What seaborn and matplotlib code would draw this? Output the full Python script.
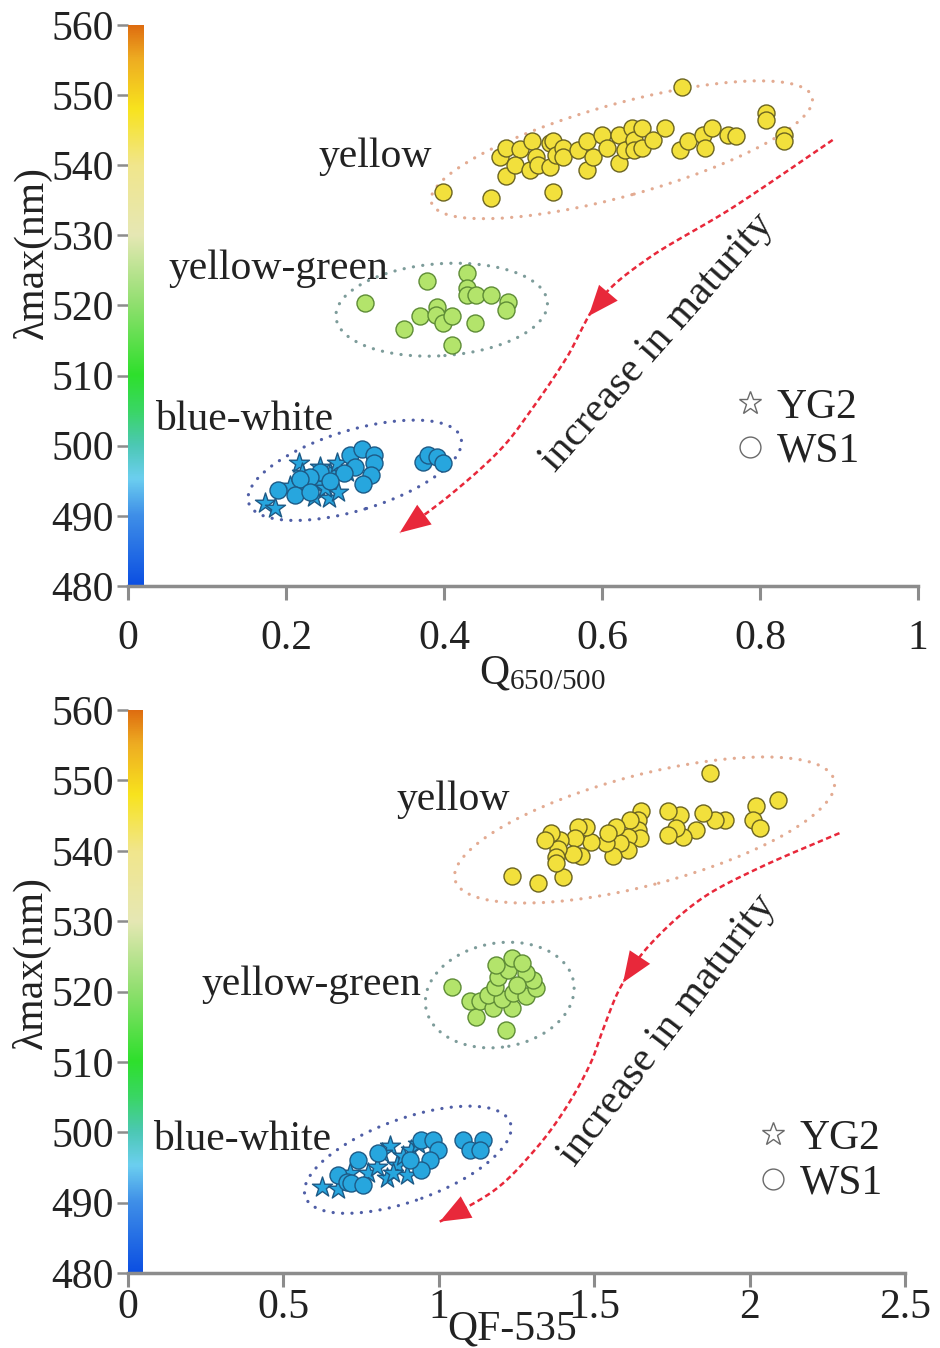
import numpy as np
import pandas as pd
import matplotlib
matplotlib.use("Agg")
import matplotlib.pyplot as plt
import matplotlib.transforms as mtransforms
from matplotlib.colors import LinearSegmentedColormap
from matplotlib.patches import Ellipse, FancyArrowPatch
from matplotlib.lines import Line2D
import seaborn as sns

# ---------------------------------------------------------------- data
# Panel A: Q650/500 vs lambda max
a_yellow_q = [0.399, 0.460, 0.538, 0.701, 0.808, 0.808, 0.830, 0.830, 0.479, 0.471,
              0.479, 0.496, 0.490, 0.509, 0.511, 0.517, 0.519, 0.534, 0.534, 0.538,
              0.542, 0.551, 0.551, 0.570, 0.581, 0.581, 0.589, 0.600, 0.606, 0.621,
              0.621, 0.629, 0.638, 0.640, 0.640, 0.650, 0.650, 0.665, 0.680, 0.699,
              0.709, 0.728, 0.730, 0.739, 0.760, 0.770]
a_yellow_l = [536.2, 535.3, 536.2, 551.2, 547.4, 546.5, 544.3, 543.4, 538.4, 541.2,
              542.4, 542.3, 540.0, 539.3, 543.4, 541.2, 540.0, 539.8, 543.1, 543.4,
              541.5, 542.4, 541.1, 542.2, 543.4, 539.3, 541.2, 544.3, 542.4, 544.3,
              540.3, 542.2, 545.3, 543.6, 542.2, 545.3, 542.4, 543.6, 545.3, 542.2,
              543.4, 544.3, 542.4, 545.3, 544.3, 544.2]
a_ygreen_q = [0.300, 0.378, 0.429, 0.429, 0.429, 0.441, 0.460, 0.481, 0.479, 0.349,
              0.370, 0.391, 0.390, 0.399, 0.410, 0.439, 0.410]
a_ygreen_l = [520.4, 523.5, 524.6, 522.5, 521.5, 521.5, 521.5, 520.5, 519.4, 516.6,
              518.5, 519.8, 518.6, 517.5, 518.5, 517.5, 514.4]
a_blue_ws1_q = [0.281, 0.296, 0.311, 0.311, 0.308, 0.298, 0.287, 0.273, 0.243, 0.230,
                0.218, 0.211, 0.230, 0.374, 0.380, 0.391, 0.399, 0.190, 0.256]
a_blue_ws1_l = [498.7, 499.5, 498.7, 497.5, 495.8, 494.6, 497.0, 496.1, 496.3, 495.6,
                495.3, 493.0, 493.4, 497.7, 498.7, 498.4, 497.6, 493.7, 494.9]
a_blue_yg2_q = [0.173, 0.186, 0.216, 0.205, 0.224, 0.239, 0.235, 0.254, 0.266, 0.249,
                0.256, 0.268, 0.264, 0.277, 0.220, 0.243]
a_blue_yg2_l = [491.8, 491.1, 497.5, 494.2, 494.5, 494.6, 492.7, 492.5, 493.4, 493.9,
                496.1, 496.5, 497.5, 496.3, 496.1, 497.0]

# Panel B: QF-535 vs lambda max
b_yellow_q = [1.234, 1.319, 1.400, 1.871, 2.091, 2.021, 2.011, 2.032, 1.920, 1.887,
              1.850, 1.828, 1.786, 1.775, 1.764, 1.737, 1.737, 1.652, 1.641, 1.641,
              1.646, 1.614, 1.609, 1.609, 1.582, 1.571, 1.559, 1.539, 1.544, 1.491,
              1.475, 1.448, 1.437, 1.459, 1.432, 1.389, 1.384, 1.378, 1.378, 1.362,
              1.341]
b_yellow_l = [536.4, 535.4, 536.3, 551.1, 547.2, 546.3, 544.4, 543.2, 544.3, 544.4,
              545.3, 543.0, 542.0, 545.1, 543.2, 545.6, 542.2, 545.6, 544.4, 543.0,
              541.8, 544.4, 542.0, 540.1, 541.1, 543.4, 539.2, 541.1, 542.5, 541.3,
              543.4, 543.4, 541.8, 539.3, 539.6, 541.5, 540.3, 539.1, 538.2, 542.5,
              541.5]
b_ygreen_q = [1.041, 1.215, 1.121, 1.100, 1.132, 1.173, 1.234, 1.159, 1.202, 1.239,
              1.282, 1.314, 1.303, 1.282, 1.250, 1.180, 1.191, 1.223, 1.185, 1.234,
              1.266]
b_ygreen_l = [520.6, 514.6, 516.4, 518.6, 518.6, 517.6, 517.6, 519.5, 519.0, 519.8,
              519.3, 520.5, 521.6, 522.6, 520.9, 520.7, 522.1, 523.1, 523.8, 524.7,
              524.0]
b_blue_ws1_q = [0.676, 0.703, 0.741, 0.719, 0.757, 0.805, 0.944, 0.982, 0.998, 0.971,
                0.944, 1.078, 1.142, 1.100, 1.132, 0.907]
b_blue_ws1_l = [494.0, 493.0, 496.1, 492.8, 492.5, 497.0, 498.9, 498.9, 497.5, 496.1,
                494.6, 498.9, 498.9, 497.5, 497.5, 496.1]
b_blue_yg2_q = [0.623, 0.676, 0.714, 0.773, 0.832, 0.842, 0.816, 0.864, 0.885, 0.912,
                0.896, 0.934, 0.853, 0.800]
b_blue_yg2_l = [492.2, 491.9, 494.2, 494.2, 493.5, 498.0, 497.0, 495.4, 496.6, 497.5,
                494.0, 498.4, 494.2, 495.1]

groups = ["yellow", "yellow-green", "blue-white"]
wells = ["YG2", "WS1"]
y_ticks = [480, 490, 500, 510, 520, 530, 540, 550, 560]
a_x_ticks = [0, 0.2, 0.4, 0.6, 0.8, 1.0]
a_x_labels = ["0", "0.2", "0.4", "0.6", "0.8", "1"]
b_x_ticks = [0, 0.5, 1.0, 1.5, 2.0, 2.5]
b_x_labels = ["0", "0.5", "1", "1.5", "2", "2.5"]


def build_frame(yellow, ygreen, blue_ws1, blue_yg2):
    parts = [
        pd.DataFrame({"q": yellow[0], "lam": yellow[1], "group": "yellow", "well": "WS1"}),
        pd.DataFrame({"q": ygreen[0], "lam": ygreen[1], "group": "yellow-green", "well": "WS1"}),
        pd.DataFrame({"q": blue_ws1[0], "lam": blue_ws1[1], "group": "blue-white", "well": "WS1"}),
        pd.DataFrame({"q": blue_yg2[0], "lam": blue_yg2[1], "group": "blue-white", "well": "YG2"}),
    ]
    return pd.concat(parts, ignore_index=True)


df_a = build_frame((a_yellow_q, a_yellow_l), (a_ygreen_q, a_ygreen_l),
                   (a_blue_ws1_q, a_blue_ws1_l), (a_blue_yg2_q, a_blue_yg2_l))
df_b = build_frame((b_yellow_q, b_yellow_l), (b_ygreen_q, b_ygreen_l),
                   (b_blue_ws1_q, b_blue_ws1_l), (b_blue_yg2_q, b_blue_yg2_l))

# ---------------------------------------------------------------- style
sns.set_theme(style="white")
plt.rcParams["font.family"] = ["Liberation Serif", "DejaVu Serif"]
plt.rcParams["mathtext.fontset"] = "custom"
plt.rcParams["mathtext.rm"] = "Liberation Serif"
plt.rcParams["mathtext.it"] = "Liberation Serif:italic"

face = {"yellow": "#f2e03c", "yellow-green": "#b3e46b", "blue-white": "#27a6de"}
edge = {"yellow": "#6b6420", "yellow-green": "#5e8c36", "blue-white": "#1d5a86"}
ring = {"yellow": "#e3ab92", "yellow-green": "#7d9c9a", "blue-white": "#4f5ea6"}
marker_of = {"WS1": "o", "YG2": "*"}
size_of = {"WS1": 150, "YG2": 230}

spectrum = LinearSegmentedColormap.from_list("lam", [
    (0.0, "#0c4fe2"), (0.125, "#3f8fe8"), (0.19, "#6ccff0"), (0.25, "#4cc8b4"),
    (0.31, "#3ad666"), (0.375, "#2ee02c"), (0.5, "#8fdf6e"), (0.625, "#e6e8b4"),
    (0.75, "#f1e68c"), (0.85, "#f8e31e"), (0.94, "#eeac22"), (1.0, "#de6c10")])

DPI = 100
fig = plt.figure(figsize=(9.40, 13.48), dpi=DPI)
ax_a = fig.add_axes([0.1362, 0.5653, 0.8404, 0.4162])
ax_b = fig.add_axes([0.1362, 0.0556, 0.8266, 0.4177])

TXT = "#222222"
AXC = "#8c8c8c"
ARROW = "#e8283a"
NSEG = 30


def catmull(points, n=NSEG):
    p = np.asarray(points, dtype=float)
    p = np.vstack([p[0], p, p[-1]])
    out = []
    for i in range(1, len(p) - 2):
        p0, p1, p2, p3 = p[i - 1], p[i], p[i + 1], p[i + 2]
        t = np.linspace(0, 1, n, endpoint=False)[:, None]
        seg = 0.5 * ((2 * p1) + (-p0 + p2) * t + (2 * p0 - 5 * p1 + 4 * p2 - p3) * t ** 2
                     + (-p0 + 3 * p1 - 3 * p2 + p3) * t ** 3)
        out.append(seg)
    out.append(p[-2][None, :])
    return np.vstack(out)


def panel(ax, df, xlim, xticks, xlabels, bar_w, ellipses, labels, guide, mid_pos,
          note_xy, note_rot, legend_anchor, xlabel, xlabel_xy, tick_pad, ylabel_xy):
    # colour scale strip along the wavelength axis
    grad = np.linspace(0, 1, 256)[:, None]
    ax.imshow(grad, cmap=spectrum, aspect="auto", origin="lower",
              extent=[0, bar_w, 0, 1], transform=ax.transAxes, zorder=1)

    for g in groups:
        for w in wells:
            sub = df[(df["group"] == g) & (df["well"] == w)]
            if sub.empty:
                continue
            sns.scatterplot(data=sub, x="q", y="lam", ax=ax, marker=marker_of[w],
                            s=size_of[w], color=face[g], edgecolor=edge[g],
                            linewidth=1.0, legend=False, zorder=4)

    ax.set_xlim(*xlim)
    ax.set_ylim(480, 560)

    # dotted outlines around each colour group (size in inches, angle in screen space)
    for g, (cx, cy, w_in, h_in, ang) in ellipses.items():
        tr = fig.dpi_scale_trans + mtransforms.ScaledTranslation(cx, cy, ax.transData)
        ax.add_patch(Ellipse((0, 0), w_in, h_in, angle=ang, transform=tr, fill=False,
                             edgecolor=ring[g], linewidth=2.3, linestyle=(0, (0.05, 2.9)),
                             capstyle="round", zorder=3))

    for g, (tx, ty) in labels.items():
        ax.text(tx, ty, g, fontsize=30, color=TXT, ha="left", va="center", zorder=5)

    # maturity trend arrow
    path = catmull(guide)
    ax.plot(path[:, 0], path[:, 1], color=ARROW, lw=1.8, ls=(0, (2.2, 1.4)), zorder=3)
    mid_k = int(round(mid_pos * NSEG))
    for k in (mid_k, len(path) - 1):
        tip = path[k]
        back = path[max(k - 22, 0)]
        ax.add_patch(FancyArrowPatch(back, tip,
                                     arrowstyle="-|>,head_length=0.55,head_width=0.22",
                                     mutation_scale=40, color=ARROW, lw=0,
                                     shrinkA=0, shrinkB=0, zorder=4))
    ax.text(note_xy[0], note_xy[1], "increase in maturity", fontsize=30, color=TXT,
            rotation=note_rot, rotation_mode="anchor", ha="center", va="center", zorder=5)

    handles = [Line2D([], [], ls="none", marker="*", ms=17, mfc="none", mec="#6a6a6a", mew=1.0),
               Line2D([], [], ls="none", marker="o", ms=15, mfc="none", mec="#6a6a6a", mew=1.0)]
    ax.legend(handles, wells, loc="upper left", bbox_to_anchor=legend_anchor, frameon=False,
              fontsize=30, handletextpad=0.15, labelspacing=0.14, borderpad=0,
              handlelength=1.0, labelcolor=TXT)

    ax.set_yticks(y_ticks)
    ax.set_yticklabels([str(v) for v in y_ticks])
    ax.set_xticks(xticks)
    ax.set_xticklabels(xlabels)
    ax.tick_params(axis="x", direction="out", length=10, width=2.2, color=AXC,
                   labelsize=30, labelcolor=TXT, pad=tick_pad, bottom=True)
    ax.tick_params(axis="y", direction="out", length=8, width=1.8, color=AXC,
                   labelsize=30, labelcolor=TXT, pad=2, left=True)
    for side in ("top", "right", "left"):
        ax.spines[side].set_visible(False)
    ax.spines["bottom"].set_color(AXC)
    ax.spines["bottom"].set_linewidth(2.5)
    ax.set_xlabel(xlabel, fontsize=30, color=TXT)
    ax.xaxis.set_label_coords(*xlabel_xy)
    ax.set_ylabel("λmax(nm)", fontsize=30, color=TXT)
    ax.yaxis.set_label_coords(*ylabel_xy)
    ax.grid(False)


panel(ax_a, df_a, (0, 1.0), a_x_ticks, a_x_labels, 0.019,
      ellipses={"yellow": (0.625, 542.2, 3.95, 0.92, 15.5),
                "yellow-green": (0.397, 519.4, 2.12, 0.92, 4.0),
                "blue-white": (0.287, 496.5, 2.22, 0.80, 17.0)},
      labels={"yellow": (0.2405, 541.2), "yellow-green": (0.0506, 525.3),
              "blue-white": (0.0342, 503.7)},
      guide=[(0.892, 543.6), (0.766, 534.0), (0.661, 526.9), (0.597, 520.8),
             (0.556, 512.7), (0.513, 505.5), (0.471, 499.4), (0.408, 493.0),
             (0.344, 487.6)],
      mid_pos=3.3, note_xy=(0.670, 514.8), note_rot=48.5,
      legend_anchor=(0.734, 0.39),
      xlabel=r"Q$_{\mathrm{650/500}}$", xlabel_xy=(0.524, -0.122), tick_pad=14,
      ylabel_xy=(-0.097, 0.595))

panel(ax_b, df_b, (0, 2.5), b_x_ticks, b_x_labels, 0.0193,
      ellipses={"yellow": (1.662, 542.95, 3.92, 1.10, 14.8),
                "yellow-green": (1.196, 519.5, 1.50, 1.04, 10.0),
                "blue-white": (0.900, 496.1, 2.18, 0.82, 20.0)},
      labels={"yellow": (0.865, 547.2), "yellow-green": (0.238, 520.9),
              "blue-white": (0.080, 498.9)},
      guide=[(2.289, 542.5), (2.032, 537.6), (1.839, 533.0), (1.678, 526.6),
             (1.588, 520.9), (1.534, 515.3), (1.486, 509.6), (1.405, 503.2),
             (1.309, 497.5), (1.180, 491.8), (1.003, 487.3)],
      mid_pos=3.95, note_xy=(1.736, 514.5), note_rot=52.5,
      legend_anchor=(0.776, 0.31),
      xlabel="QF-535", xlabel_xy=(0.494, -0.066), tick_pad=1,
      ylabel_xy=(-0.099, 0.552))

fig.savefig("out.png", dpi=DPI, facecolor="white")
